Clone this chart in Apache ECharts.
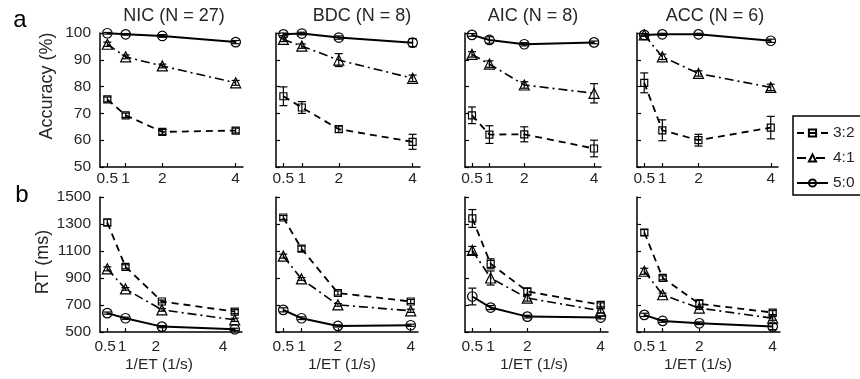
<!DOCTYPE html>
<html><head><meta charset="utf-8">
<script src="https://cdn.jsdelivr.net/npm/echarts@6/dist/echarts.min.js"></script>
<style>html,body{margin:0;padding:0;background:#fff}#c{width:860px;height:379px}</style>
</head><body><div id="c"></div><script>
// ---- data ----
const xValues = [0.5, 1, 2, 4];
const xTickValues = [0.5, 1, 2, 4];
const accTicks = [50, 60, 70, 80, 90, 100];
const rtTicks = [500, 700, 900, 1100, 1300, 1500];
const groupTitles = ['NIC (N = 27)', 'BDC (N = 8)', 'AIC (N = 8)', 'ACC (N = 6)'];
const ratioNames = ['3:2', '4:1', '5:0'];

// Accuracy (%) mean and error
const accNIC32 = [75.2, 69.3, 63.1, 63.6], accNIC32err = [0.9, 0.8, 0.9, 0.9];
const accNIC41 = [95.8, 91.1, 87.7, 81.4], accNIC41err = [0.8, 0.7, 0.7, 0.9];
const accNIC50 = [99.9, 99.5, 98.9, 96.6], accNIC50err = [0.3, 0.3, 0.5, 0.6];
const accBDC32 = [76.4, 72.2, 64.1, 59.4], accBDC32err = [3.5, 2.2, 1.2, 2.8];
const accBDC41 = [97.6, 95.1, 89.9, 83.1], accBDC41err = [0.8, 0.8, 2.4, 1.2];
const accBDC50 = [99.5, 99.8, 98.3, 96.4], accBDC50err = [0.5, 0.5, 0.6, 1.5];
const accAIC32 = [69.3, 62.1, 62.2, 56.9], accAIC32err = [3.1, 3.3, 2.8, 3.1];
const accAIC41 = [92.0, 88.4, 80.6, 77.5], accAIC41err = [1.0, 1.2, 1.2, 3.6];
const accAIC50 = [99.3, 97.4, 95.8, 96.5], accAIC50err = [0.5, 1.2, 0.6, 0.5];
const accACC32 = [81.4, 63.7, 60.0, 64.7], accACC32err = [3.7, 3.9, 2.2, 4.2];
const accACC41 = [99.3, 91.1, 84.9, 79.7], accACC41err = [0.5, 1.0, 1.0, 1.2];
const accACC50 = [99.3, 99.5, 99.5, 97.1], accACC50err = [0.4, 0.4, 0.4, 0.6];

// RT (ms) mean and error
const rtNIC32 = [1311, 983, 726, 651], rtNIC32err = [25, 15, 10, 15];
const rtNIC41 = [968, 819, 664, 590], rtNIC41err = [15, 10, 10, 12];
const rtNIC50 = [640, 602, 540, 520], rtNIC50err = [8, 8, 8, 8];
const rtBDC32 = [1348, 1117, 789, 726], rtBDC32err = [15, 20, 15, 15];
const rtBDC41 = [1062, 893, 701, 657], rtBDC41err = [15, 10, 10, 12];
const rtBDC50 = [664, 602, 545, 550], rtBDC50err = [15, 10, 8, 8];
const rtAIC32 = [1341, 1005, 801, 701], rtAIC32err = [66, 37, 22, 15];
const rtAIC41 = [1104, 900, 751, 657], rtAIC41err = [30, 52, 22, 15];
const rtAIC50 = [763, 681, 614, 607], rtAIC50err = [62, 15, 10, 10];
const rtACC32 = [1237, 901, 709, 644], rtACC32err = [22, 15, 30, 15];
const rtACC41 = [950, 776, 677, 602], rtACC41err = [22, 12, 10, 15];
const rtACC50 = [627, 582, 565, 540], rtACC50err = [12, 10, 10, 22];

const accPanels = [
  [[accNIC32, accNIC32err], [accNIC41, accNIC41err], [accNIC50, accNIC50err]],
  [[accBDC32, accBDC32err], [accBDC41, accBDC41err], [accBDC50, accBDC50err]],
  [[accAIC32, accAIC32err], [accAIC41, accAIC41err], [accAIC50, accAIC50err]],
  [[accACC32, accACC32err], [accACC41, accACC41err], [accACC50, accACC50err]]
];
const rtPanels = [
  [[rtNIC32, rtNIC32err], [rtNIC41, rtNIC41err], [rtNIC50, rtNIC50err]],
  [[rtBDC32, rtBDC32err], [rtBDC41, rtBDC41err], [rtBDC50, rtBDC50err]],
  [[rtAIC32, rtAIC32err], [rtAIC41, rtAIC41err], [rtAIC50, rtAIC50err]],
  [[rtACC32, rtACC32err], [rtACC41, rtACC41err], [rtACC50, rtACC50err]]
];

// ---- layout / style ----
const FONT = '"Liberation Sans", Arial, sans-serif';
const TXT = '#262626';
const topGrids = [[100, 143], [276, 144], [465, 136], [637, 141]];
const botGrids = [[100, 142], [276, 142], [465, 143], [637, 143]];
const lineStyles = [
  {symbol: 'rect', size: 7, type: [7, 5], width: 1.8},
  {symbol: 'triangle', size: 10, type: [9, 4, 2, 4], width: 1.6},
  {symbol: 'circle', size: 9.5, type: 'solid', width: 2}
];
// label-only axes for bottom panels whose tick labels sit off the ticks
const botLabelRange = [[0.347, 4.56], null, null, null];
const plain = (v) => String(v);

const grid = [], xAxis = [], yAxis = [], series = [];
function addPanel(gi, g, top, height, yMin, yMax, yTicks, panel, labelMargin, labelRange) {
  grid.push({left: g[0], width: g[1], top: top, height: height});
  const axisLine = {show: true, onZero: false, lineStyle: {color: '#000', width: 1.5}};
  xAxis.push({
    type: 'value', gridIndex: gi, min: 0.3, max: 4.2,
    axisLine: axisLine,
    axisTick: {show: true, inside: true, length: 4, customValues: xTickValues, lineStyle: {color: '#000', width: 1.2}},
    axisLabel: {show: !labelRange, customValues: xTickValues, formatter: plain, fontSize: 15.5, color: TXT, fontFamily: FONT, margin: labelMargin},
    splitLine: {show: false}
  });
  const xi = xAxis.length - 1;
  if (labelRange) {
    xAxis.push({
      type: 'value', gridIndex: gi, min: labelRange[0], max: labelRange[1], position: 'bottom',
      axisLine: {show: false}, axisTick: {show: false}, splitLine: {show: false},
      axisLabel: {customValues: xTickValues, formatter: plain, fontSize: 15.5, color: TXT, fontFamily: FONT, margin: labelMargin}
    });
  }
  yAxis.push({
    type: 'value', gridIndex: gi, min: yMin, max: yMax,
    axisLine: axisLine,
    axisTick: {show: true, inside: true, length: 4, customValues: yTicks, lineStyle: {color: '#000', width: 1.2}},
    axisLabel: {show: gi % 4 === 0, customValues: yTicks, formatter: plain, fontSize: 15.5, color: TXT, fontFamily: FONT, margin: 9},
    splitLine: {show: false}
  });
  const yi = yAxis.length - 1;
  panel.forEach((s, k) => {
    const st = lineStyles[k];
    series.push({
      type: 'line', name: ratioNames[k], xAxisIndex: xi, yAxisIndex: yi,
      data: xValues.map((x, i) => [x, s[0][i]]),
      symbol: st.symbol, symbolSize: st.size, showSymbol: true,
      lineStyle: {color: '#000', width: st.width, type: st.type},
      itemStyle: {color: 'rgba(255,255,255,0)', borderColor: '#000', borderWidth: 1.2},
      z: 2, silent: true
    });
    series.push({
      type: 'custom', xAxisIndex: xi, yAxisIndex: yi, z: 3, silent: true,
      data: xValues.map((x, i) => [x, s[0][i] - s[1][i], s[0][i] + s[1][i]]),
      encode: {x: 0, y: [1, 2]},
      renderItem: function (params, api) {
        const lo = api.coord([api.value(0), api.value(1)]);
        const hi = api.coord([api.value(0), api.value(2)]);
        const w = 4, sty = {stroke: '#000', lineWidth: 1.2};
        return {type: 'group', children: [
          {type: 'line', shape: {x1: lo[0], y1: lo[1], x2: hi[0], y2: hi[1]}, style: sty},
          {type: 'line', shape: {x1: lo[0] - w, y1: lo[1], x2: lo[0] + w, y2: lo[1]}, style: sty},
          {type: 'line', shape: {x1: hi[0] - w, y1: hi[1], x2: hi[0] + w, y2: hi[1]}, style: sty}
        ]};
      }
    });
  });
}
topGrids.forEach((g, c) => addPanel(c, g, 33, 134, 50, 100, accTicks, accPanels[c], 4, null));
botGrids.forEach((g, c) => addPanel(4 + c, g, 197, 135, 500, 1500, rtTicks, rtPanels[c], 7, botLabelRange[c]));

const titleCenters = [174, 362, 533, 715];
const xNameCenters = [159, 342, 534, 698];
const graphic = [];
groupTitles.forEach((t, i) => graphic.push({type: 'text', x: titleCenters[i], y: 16, style: {text: t, font: '18px ' + FONT, fill: TXT, align: 'center', verticalAlign: 'middle'}}));
xNameCenters.forEach((cx) => graphic.push({type: 'text', x: cx, y: 365, style: {text: '1/ET (1/s)', font: '15.5px ' + FONT, fill: TXT, align: 'center', verticalAlign: 'middle'}}));
graphic.push({type: 'text', x: 47, y: 86, rotation: Math.PI / 2, style: {text: 'Accuracy (%)', font: '18px ' + FONT, fill: TXT, align: 'center', verticalAlign: 'middle'}});
graphic.push({type: 'text', x: 43, y: 262, rotation: Math.PI / 2, style: {text: 'RT (ms)', font: '18px ' + FONT, fill: TXT, align: 'center', verticalAlign: 'middle'}});
graphic.push({type: 'text', x: 20, y: 20, style: {text: 'a', font: '24px ' + FONT, fill: '#000', align: 'center', verticalAlign: 'middle'}});
graphic.push({type: 'text', x: 22, y: 195, style: {text: 'b', font: '24px ' + FONT, fill: '#000', align: 'center', verticalAlign: 'middle'}});

const chart = echarts.init(document.getElementById('c'), null, {renderer: 'canvas'});
chart.setOption({
  animation: false,
  backgroundColor: '#fff',
  grid: grid, xAxis: xAxis, yAxis: yAxis, series: series, graphic: graphic,
  legend: {
    data: ratioNames, orient: 'vertical', left: 793, top: 116,
    itemWidth: 31, itemHeight: 9, itemGap: 7, selectedMode: false,
    padding: [8, 30, 3, 3], borderColor: '#000', borderWidth: 1.5, backgroundColor: '#fff',
    textStyle: {fontSize: 15.5, color: TXT, fontFamily: FONT, lineHeight: 18}
  }
});
</script></body></html>
